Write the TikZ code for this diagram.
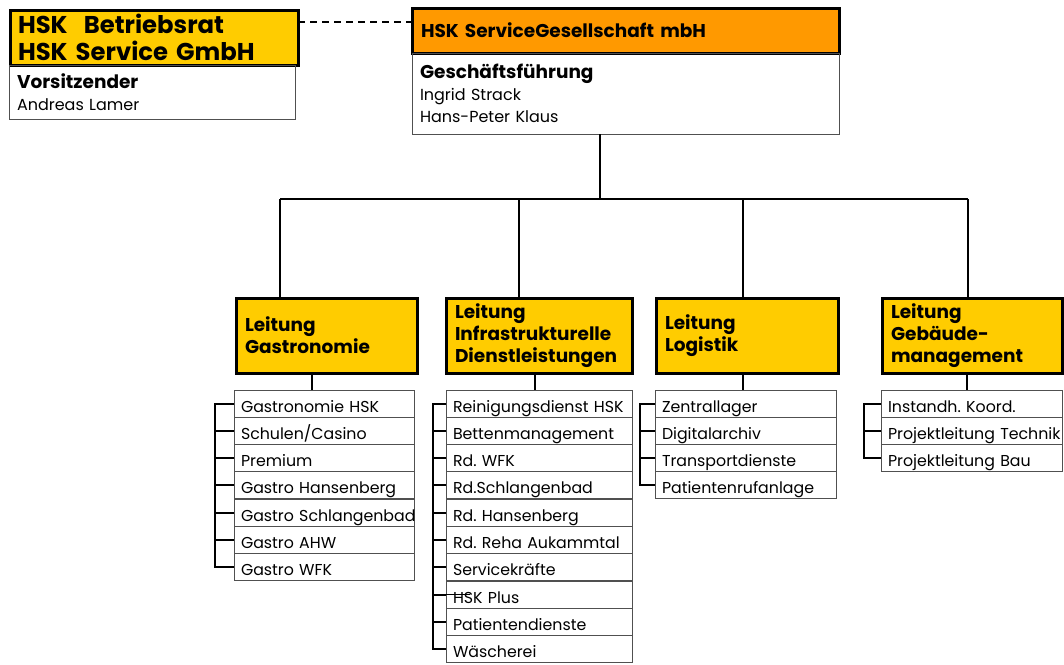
\documentclass[tikz,border=0pt]{standalone}
\usepackage{fontspec}
\setmainfont{Poppins}
\usetikzlibrary{calc}
\definecolor{hyellow}{HTML}{FFCC00}
\definecolor{horange}{HTML}{FF9900}
\definecolor{rowline}{HTML}{505050}
\tikzset{
  x=1pt,y=-1pt,
  headbox/.style={draw=black,line width=3pt,anchor=north west,inner sep=0pt,outer sep=0pt},
  infobox/.style={draw=rowline,line width=1pt,anchor=north west,inner xsep=8pt,inner ysep=0pt,outer sep=0pt,align=left},
  leitbox/.style={draw=black,fill=hyellow,line width=3pt,anchor=north west,inner xsep=9pt,inner ysep=0pt,outer sep=0pt,
     minimum height=75pt,align=left,font=\fontsize{18.5}{22}\selectfont\bfseries},
  rowbox/.style={draw=rowline,line width=0.9pt,anchor=north west,inner xsep=7pt,inner ysep=2pt,outer sep=0pt,
     minimum height=27pt,text height=20pt,text depth=3pt,align=left,font=\fontsize{15.8}{18}\selectfont},
  bus/.style={line width=1.5pt,black},
  bracket/.style={line width=2pt,black},
  stem/.style={line width=1.2pt,black},
}
\newcommand{\rows}[5]{% #1 prefix, #2 x, #3 width, #4 y, #5 list
  \foreach \t [count=\i] in {#5} {
    \node[rowbox,text width=#3pt-14pt] (#1\i) at (#2,{#4+27.3*(\i-1)}) {\mbox{\t}};
  }
}
\begin{document}
\frenchspacing
\begin{tikzpicture}
\useasboundingbox (0,0) rectangle (1064,664);
% Betriebsrat
\node[headbox,fill=hyellow,minimum width=288pt,minimum height=55pt,inner xsep=8pt,align=left,text width=272pt,
  font=\fontsize{24.3}{27}\selectfont\bfseries] (br) at (10,10) {HSK\ \ Betriebsrat\\HSK Service GmbH};
\node[infobox,minimum width=286pt,minimum height=54pt,text width=270pt,font=\fontsize{16}{22}\selectfont] (vs) at (9,65)
  {{\fontsize{18.5}{22}\selectfont\bfseries Vorsitzender}\\Andreas Lamer};
% HSK ServiceGesellschaft
\node[headbox,fill=horange,minimum width=427pt,minimum height=45pt,inner xsep=9pt,align=left,text width=409pt,
  font=\fontsize{18.5}{22}\selectfont\bfseries] (hsk) at (412,8) {HSK ServiceGesellschaft mbH};
\node[infobox,minimum width=427pt,minimum height=81pt,text width=411pt,font=\fontsize{16}{22}\selectfont] (gf) at (412,53)
  {{\fontsize{18.5}{22}\selectfont\bfseries Geschäftsführung}\\Ingrid Strack\\Hans-Peter Klaus};
\draw[dashed,line width=1.2pt,dash pattern=on 7pt off 5pt] (br.east |- 0,22) -- (hsk.west |- 0,22);
% Leitung boxes
\node[leitbox,minimum width=181pt,text width=163pt] (lg) at (236,298) {Leitung\\Gastronomie};
\node[leitbox,minimum width=186pt,text width=168pt] (li) at (446,298) {Leitung\\Infrastrukturelle\\Dienstleistungen};
\node[leitbox,minimum width=182pt,text width=164pt] (ll) at (656,298) {Leitung\\Logistik};
\node[leitbox,minimum width=180pt,text width=162pt] (lb) at (882,298) {Leitung\\Gebäude-\\management};
% bus
\coordinate (busc) at (600,199);
\coordinate (busl) at (280,199);
\coordinate (busr) at (968,199);
\draw[bus] (gf.south -| busc) -- (busc);
\draw[bus] (busl) -- (busr);
\draw[bus] (busl) -- (lg.north -| busl);
\draw[bus] (busl -| 519,0) -- (li.north -| 519,0);
\draw[bus] (busl -| 743,0) -- (ll.north -| 743,0);
\draw[bus] (busr) -- (lb.north -| busr);
% lists
\rows{g}{234}{180}{390}{Gastronomie HSK,Schulen/Casino,Premium,Gastro Hansenberg,Gastro Schlangenbad,Gastro AHW,Gastro WFK}
\rows{i}{446}{186}{390}{Reinigungsdienst HSK,Bettenmanagement,Rd. WFK,Rd.Schlangenbad,Rd. Hansenberg,Rd. Reha Aukammtal,Servicekräfte,HSK Plus,Patientendienste,Wäscherei}
\rows{l}{655}{181}{390}{Zentrallager,Digitalarchiv,Transportdienste,Patientenrufanlage}
\rows{b}{881}{181}{390}{Instandh. Koord.,Projektleitung Technik,Projektleitung Bau}
% stems
\draw[stem] (lg.south -| 312,0) -- (g1.north -| 312,0);
\draw[stem] (li.south -| 535,0) -- (i1.north -| 535,0);
\draw[stem] (ll.south -| 743,0) -- (l1.north -| 743,0);
\draw[stem] (lb.south -| 967,0) -- (b1.north -| 967,0);
% brackets
\draw[bracket] (g1.west) -- ++(-19,0) |- (g7.west);
\foreach \i in {2,...,6} \draw[bracket] (g\i.west) -- ++(-19,0);
\draw[bracket] (i1.west) -- ++(-13,0) |- (i10.west);
\foreach \i in {2,...,9} \draw[bracket] (i\i.west) -- ++(-13,0);
\draw[line width=1pt] (i8.west) -- ++(24,0);
\draw[bracket] (l1.west) -- ++(-15,0) |- (l4.west);
\foreach \i in {2,3} \draw[bracket] (l\i.west) -- ++(-15,0);
\draw[bracket] (b1.west) -- ++(-17,0) |- (b3.west);
\draw[bracket] (b2.west) -- ++(-17,0);
\end{tikzpicture}
\end{document}
